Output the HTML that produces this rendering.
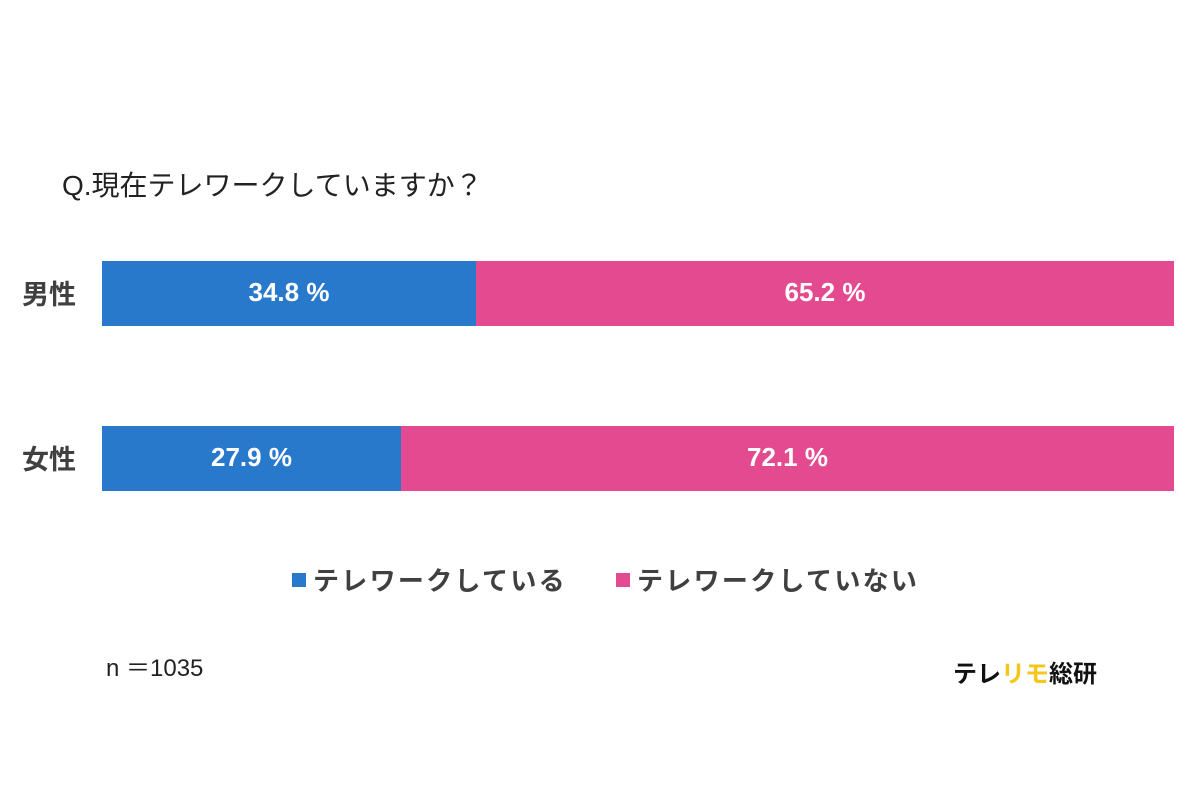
<!DOCTYPE html>
<html><head><meta charset="utf-8"><style>
body{margin:0;width:1200px;height:800px;background:#fff;position:relative;overflow:hidden;font-family:"Liberation Sans","Noto Sans CJK JP",sans-serif;}
.a{position:absolute;white-space:nowrap;}
.bar{position:absolute;height:65px;color:#fff;font-weight:bold;font-size:26px;line-height:63px;text-align:center;}
.b{background:#2878CB}.p{background:#E34A8F}
.lbl{font-size:27px;font-weight:bold;color:#404040;}
</style></head><body>
<div class="a" style="left:62px;top:164px;font-size:28px;color:#222;">Q.現在テレワークしていますか？</div>
<div class="a lbl" style="left:22px;top:273px;">男性</div>
<div class="a lbl" style="left:22px;top:438px;">女性</div>
<div class="bar b" style="left:102px;top:261px;width:374px;">34.8 %</div>
<div class="bar p" style="left:476px;top:261px;width:698px;">65.2 %</div>
<div class="bar b" style="left:102px;top:426px;width:299px;">27.9 %</div>
<div class="bar p" style="left:401px;top:426px;width:773px;">72.1 %</div>
<div class="a" style="left:292px;top:573px;width:14px;height:14px;background:#2878CB"></div>
<div class="a" style="left:313px;top:561px;font-size:26px;font-weight:bold;color:#404040;letter-spacing:2.3px;">テレワークしている</div>
<div class="a" style="left:616px;top:573px;width:14px;height:14px;background:#E34A8F"></div>
<div class="a" style="left:637px;top:561px;font-size:26px;font-weight:bold;color:#404040;letter-spacing:2.3px;">テレワークしていない</div>
<div class="a" style="left:106px;top:648px;font-size:24px;color:#222;">n ＝1035</div>
<div class="a" style="left:953px;top:654px;font-size:24px;font-weight:bold;color:#111;">テレ<span style="color:#F5C518">リモ</span>総研</div>
</body></html>
